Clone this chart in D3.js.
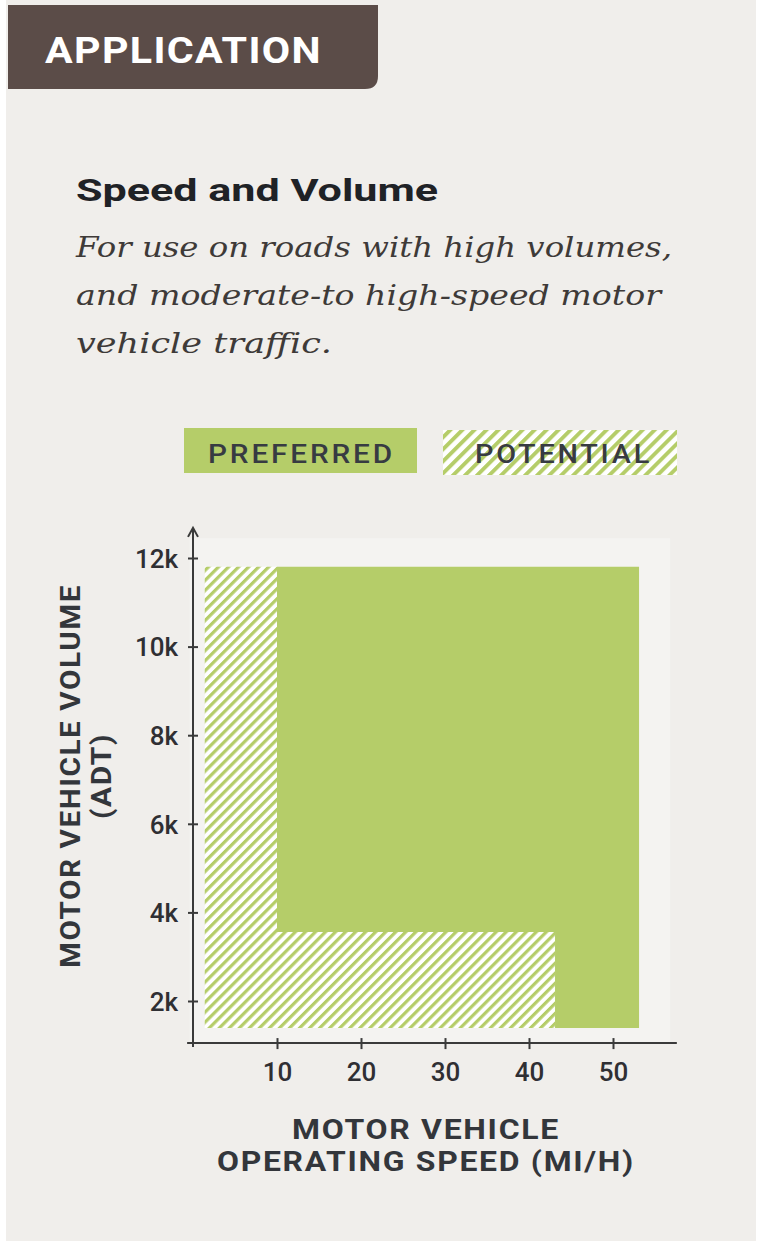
<!DOCTYPE html>
<html>
<head>
<meta charset="utf-8">
<script src="https://cdn.jsdelivr.net/npm/d3@7"></script>
<style>
  html, body { margin: 0; padding: 0; background: #ffffff; }
  svg { display: block; }
</style>
</head>
<body>
<svg id="chart" width="761" height="1246"></svg>
<script>
// ---- data ----
const speedTicks = [10, 20, 30, 40, 50];
const volumeTicks = [2000, 4000, 6000, 8000, 10000, 12000];
const volumeTickLabels = ["2k", "4k", "6k", "8k", "10k", "12k"];
const legendLabels = ["PREFERRED", "POTENTIAL"];
// outline of each zone as [speed (mi/h), volume (ADT)] vertices
const preferredZone = [[10, 11800], [53.1, 11800], [53.1, 1390], [43.1, 1390], [43.1, 3560], [10, 3560]];
const potentialZone = [[1.4, 11800], [10, 11800], [10, 3560], [43.1, 3560], [43.1, 1390], [1.4, 1390]];
const subtitleLines = [
  "For use on roads with high volumes,",
  "and moderate-to high-speed motor",
  "vehicle traffic."
];

const GREEN = "#b5cd69";
const INK = "#33363b";

const svg = d3.select("#chart");

// page
svg.append("rect").attr("x", 6).attr("y", 0).attr("width", 750).attr("height", 1241).attr("fill", "#f0eeeb");

// header tab
const tab = d3.path();
tab.moveTo(8, 5); tab.lineTo(378, 5); tab.lineTo(378, 76);
tab.quadraticCurveTo(378, 89, 365, 89); tab.lineTo(8, 89); tab.closePath();
svg.append("path").attr("d", tab.toString()).attr("fill", "#5b4c48");
svg.append("text").attr("x", 45).attr("y", 63).text("APPLICATION")
  .attr("font-family", "Roboto, 'Liberation Sans', sans-serif").attr("font-weight", 700)
  .attr("font-size", 37).attr("letter-spacing", 1.2).attr("fill", "#ffffff")
  .attr("textLength", 277).attr("lengthAdjust", "spacingAndGlyphs");

// title + description
svg.append("text").attr("x", 76).attr("y", 201).text("Speed and Volume")
  .attr("font-family", "Roboto, 'Liberation Sans', sans-serif").attr("font-weight", 700)
  .attr("font-size", 31).attr("fill", "#1f2226")
  .attr("textLength", 362).attr("lengthAdjust", "spacingAndGlyphs");
const subW = [596, 585, 256];
svg.selectAll("text.sub").data(subtitleLines).join("text").attr("class", "sub")
  .attr("x", 76).attr("y", (d, i) => 257 + i * 48).text(d => d)
  .attr("font-family", "'DejaVu Serif', serif").attr("font-style", "italic")
  .attr("font-size", 28).attr("fill", "#3e3a38")
  .attr("textLength", (d, i) => subW[i]).attr("lengthAdjust", "spacingAndGlyphs");

// hatch patterns
const defs = svg.append("defs");
function hatch(id, period, stripe) {
  const p = defs.append("pattern").attr("id", id).attr("patternUnits", "userSpaceOnUse")
    .attr("width", period).attr("height", period).attr("patternTransform", "rotate(45)");
  p.append("rect").attr("width", period).attr("height", period).attr("fill", "#ffffff");
  p.append("rect").attr("width", stripe).attr("height", period).attr("fill", GREEN);
}
hatch("hatchPlot", 7.1, 3.2);
hatch("hatchLegend", 8.5, 3.9);

// legend
const legend = [
  { label: legendLabels[0], x: 184, y: 428, w: 233, h: 45, fill: GREEN, tx: 208, tw: 187 },
  { label: legendLabels[1], x: 443, y: 430, w: 234, h: 45, fill: "url(#hatchLegend)", tx: 475, tw: 177 }
];
const lg = svg.selectAll("g.legend").data(legend).join("g").attr("class", "legend");
lg.append("rect").attr("x", d => d.x).attr("y", d => d.y).attr("width", d => d.w).attr("height", d => d.h).attr("fill", d => d.fill);
lg.append("text").attr("x", d => d.tx).attr("y", 463).text(d => d.label)
  .attr("font-family", "Roboto, sans-serif").attr("font-weight", 500).attr("font-size", 26)
  .attr("letter-spacing", 2.5)
  .attr("fill", "#373b42").attr("textLength", d => d.tw).attr("lengthAdjust", "spacingAndGlyphs");

// scales
const x = d3.scaleLinear().domain([0, 50]).range([193, 613]);
const y = d3.scaleLinear().domain([2000, 12000]).range([1001, 558]);
const xMin = -0.7, xMax = 57.6, yMin = 1050, yMax = 12680;

// soft light panel behind plot
svg.append("rect").attr("x", x(-0.4)).attr("y", y(12450)).attr("width", x(56.8) - x(-0.4))
  .attr("height", y(yMin) - y(12450)).attr("fill", "#f4f3f1");

// zones
const line = d3.line().x(d => x(d[0])).y(d => y(d[1]));
svg.append("path").attr("d", line(potentialZone) + "Z").attr("fill", "url(#hatchPlot)");
svg.append("path").attr("d", line(preferredZone) + "Z").attr("fill", GREEN);

// axes
const tickFont = "Roboto, sans-serif";
const gx = svg.append("g").attr("transform", `translate(0,${y(yMin)})`)
  .call(d3.axisBottom(x).tickValues(speedTicks).tickSize(6).tickPadding(14).tickSizeOuter(0));
gx.select(".domain").attr("d", `M${x(xMin)},0H${x(xMax)}`);
gx.selectAll(".tick line").attr("y1", -5).attr("y2", 6);
const gy = svg.append("g").attr("transform", `translate(${x(0)},0)`)
  .call(d3.axisLeft(y).tickValues(volumeTicks).tickFormat((d, i) => volumeTickLabels[i])
    .tickSize(5).tickPadding(10).tickSizeOuter(0));
gy.select(".domain").attr("d", `M0,${y(yMin) + 4}V${y(yMax)}`);
gy.selectAll(".tick line").attr("x1", -5).attr("x2", 5);
[gx, gy].forEach(g => {
  g.selectAll(".domain").attr("stroke", "#3a3a3a").attr("stroke-width", 2);
  g.selectAll(".tick line").attr("stroke", "#3a3a3a").attr("stroke-width", 2);
  g.selectAll(".tick text").attr("font-family", tickFont).attr("font-weight", 500)
    .attr("font-size", 26).attr("fill", "#2f2f33");
});
gx.selectAll(".tick text").attr("dy", null).attr("y", 38);
gy.selectAll(".tick text").attr("dy", "0.36em");

// arrow head on y axis
svg.append("path")
  .attr("d", `M${x(0) - 5},${y(yMax) + 9}L${x(0)},${y(yMax)}L${x(0) + 5},${y(yMax) + 9}`)
  .attr("fill", "none").attr("stroke", "#3a3a3a").attr("stroke-width", 2);

// axis titles
const titleFont = "Roboto, sans-serif";
function axisTitle(sel, txt, len) {
  return sel.text(txt).attr("text-anchor", "middle")
    .attr("font-family", titleFont).attr("font-weight", 700).attr("font-size", 28)
    .attr("letter-spacing", 1.5).attr("fill", INK)
    .attr("textLength", len).attr("lengthAdjust", "spacingAndGlyphs");
}
const yTitle = svg.append("g").attr("transform", "translate(0,776) rotate(-90)");
axisTitle(yTitle.append("text").attr("x", 0).attr("y", 80), "MOTOR VEHICLE VOLUME", 384);
axisTitle(yTitle.append("text").attr("x", 0).attr("y", 111), "(ADT)", 86);
axisTitle(svg.append("text").attr("x", 426).attr("y", 1139), "MOTOR VEHICLE", 268);
axisTitle(svg.append("text").attr("x", 426).attr("y", 1171), "OPERATING SPEED (MI/H)", 418);
</script>
</body>
</html>
